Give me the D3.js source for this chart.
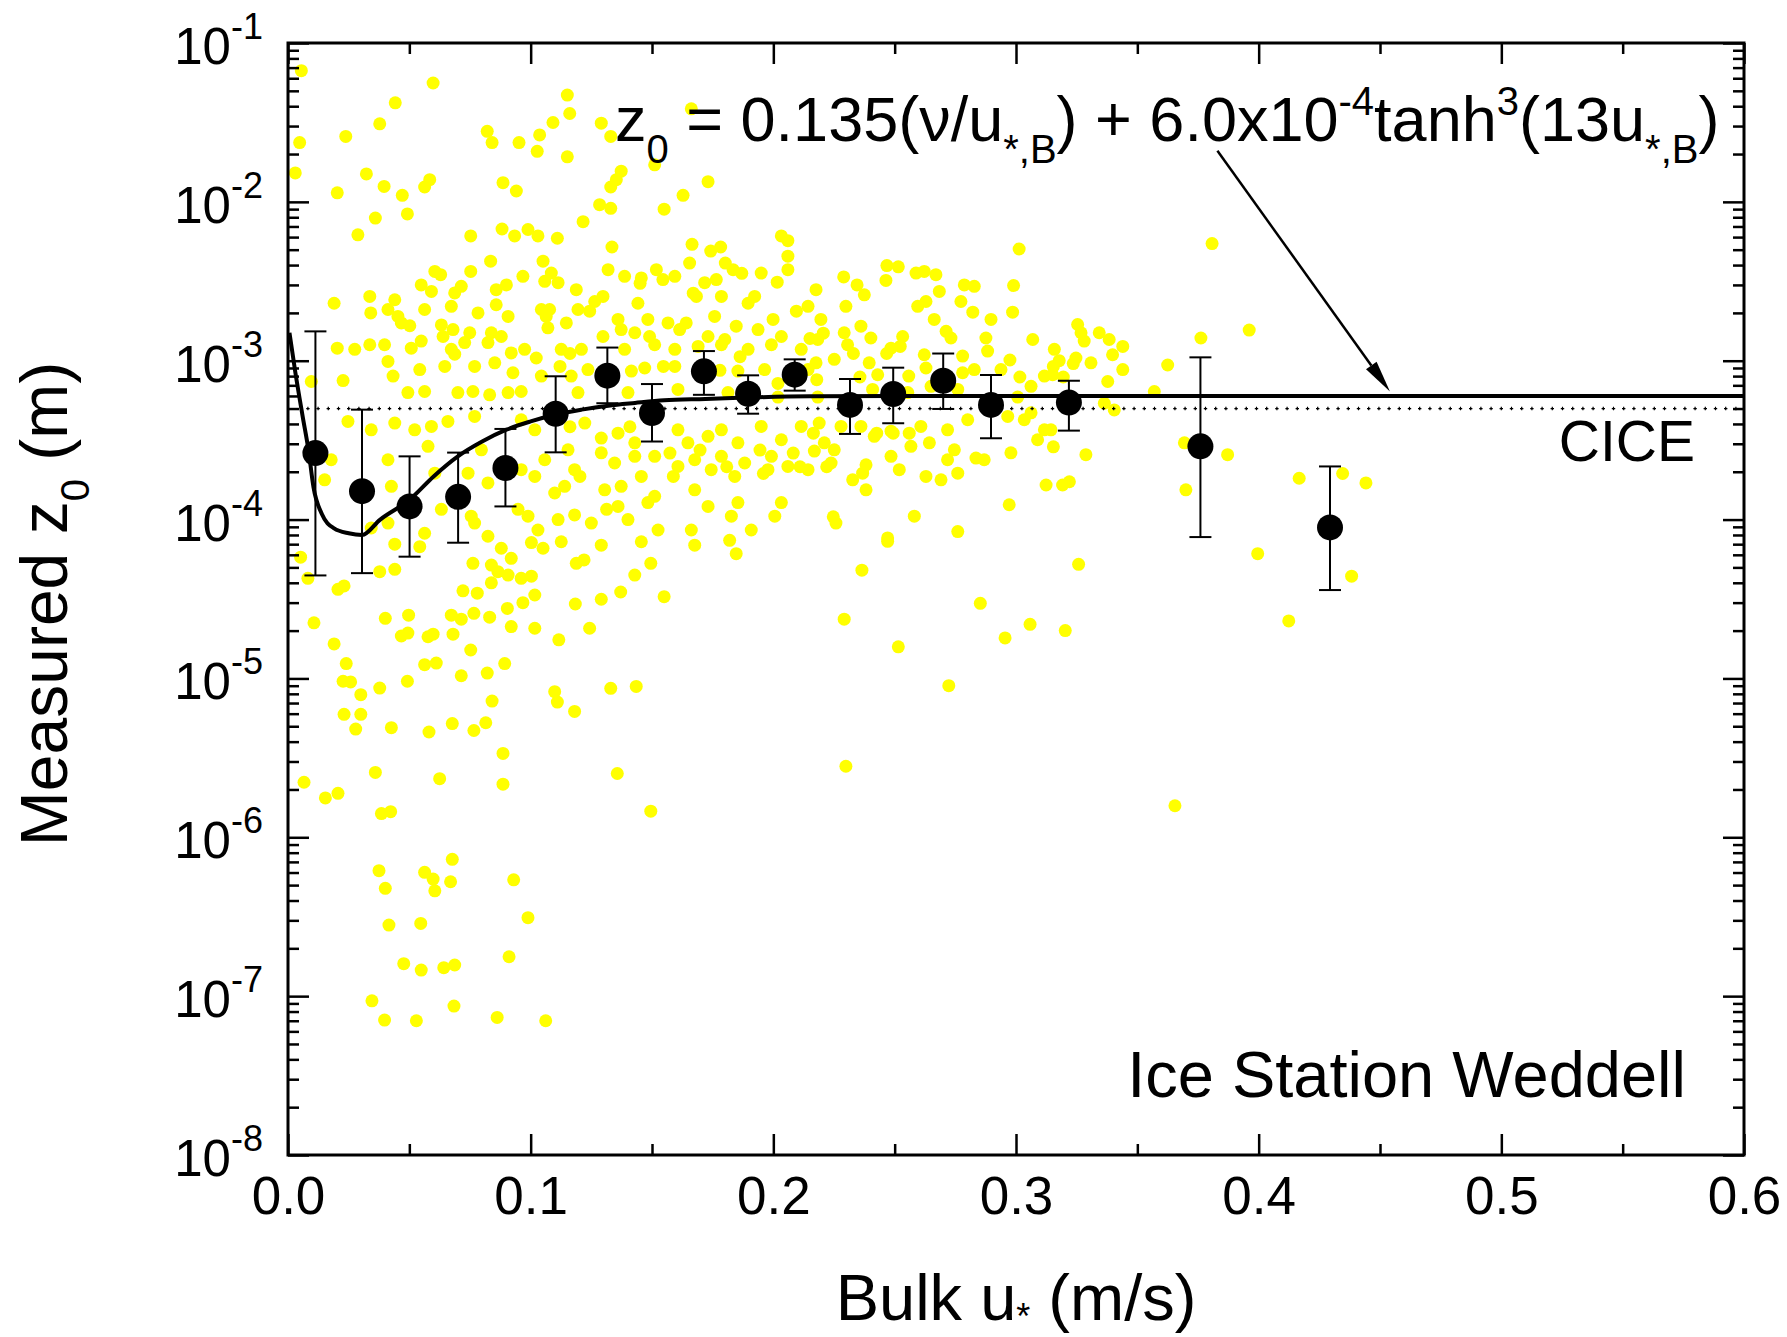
<!DOCTYPE html>
<html>
<head>
<meta charset="utf-8">
<script src="https://cdn.jsdelivr.net/npm/d3@7"></script>
<style>
  html, body { margin: 0; padding: 0; background: #ffffff; }
  svg { display: block; }
  text { font-family: "Liberation Sans", Arial, Helvetica, sans-serif; fill: #000; white-space: pre; }
</style>
</head>
<body>
<svg id="chart" width="1787" height="1337"></svg>
<script>
// ---- axis ticks ----
const xMajor = [0, 0.1, 0.2, 0.3, 0.4, 0.5, 0.6];
const xTickLabels = ["0.0", "0.1", "0.2", "0.3", "0.4", "0.5", "0.6"];
const xMinor = [0.05, 0.15, 0.25, 0.35, 0.45, 0.55];
const yMajor = [1e-8, 1e-7, 1e-6, 1e-5, 1e-4, 1e-3, 1e-2, 1e-1];
const yTickExponents = ["-8", "-7", "-6", "-5", "-4", "-3", "-2", "-1"];

// ---- binned means of z0 with error bars ----
const binU    = [0.0113, 0.0305, 0.0501, 0.0701, 0.0896, 0.1103, 0.1316, 0.1500, 0.1714, 0.1896, 0.2088, 0.2316, 0.2494, 0.2700, 0.2897, 0.3218, 0.3760, 0.4294];
const binZ0   = [2.62e-4, 1.51e-4, 1.21e-4, 1.39e-4, 2.11e-4, 4.64e-4, 8.05e-4, 4.69e-4, 8.57e-4, 6.2e-4, 8.17e-4, 5.27e-4, 6.17e-4, 7.48e-4, 5.27e-4, 5.45e-4, 2.89e-4, 8.93e-5];
const binHigh = [1.53e-3, 4.92e-4, 2.50e-4, 2.64e-4, 3.72e-4, 7.98e-4, 1.21e-3, 7.13e-4, 1.15e-3, 8.09e-4, 1.02e-3, 7.67e-4, 9.04e-4, 1.11e-3, 8.13e-4, 7.48e-4, 1.05e-3, 2.16e-4];
const binLow  = [4.45e-5, 4.6e-5, 5.84e-5, 7.15e-5, 1.21e-4, 2.65e-4, 5.4e-4, 3.1e-4, 6.1e-4, 4.64e-4, 6.48e-4, 3.46e-4, 4.04e-4, 4.97e-4, 3.25e-4, 3.63e-4, 7.76e-5, 3.6e-5];

// ---- fitted relation z0(u*,B) ----
const fitU  = [0.0006, 0.003, 0.006, 0.0085, 0.0105, 0.014, 0.019, 0.025, 0.0305, 0.038, 0.050, 0.060, 0.070, 0.080, 0.090, 0.100, 0.110, 0.121, 0.132, 0.143, 0.155, 0.172, 0.192, 0.215, 0.25, 0.30, 0.365, 0.6];
const fitZ0 = [1.5e-3, 8.5e-4, 4.5e-4, 2.7e-4, 1.6e-4, 1.08e-4, 8.8e-5, 8.2e-5, 8.0e-5, 1.0e-4, 1.33e-4, 1.87e-4, 2.5e-4, 3.1e-4, 3.68e-4, 4.15e-4, 4.57e-4, 4.92e-4, 5.21e-4, 5.42e-4, 5.63e-4, 5.74e-4, 5.88e-4, 5.97e-4, 6.0e-4, 6.0e-4, 6.0e-4, 6.0e-4];

// ---- CICE constant roughness ----
const ciceZ0 = 5e-4;
const ciceU = [0.0075, 0.6];

// ---- individual measurements [u*,B (m/s), z0 (m)] ----
const samples = [
[0.0055,6.7e-2],[0.0598,5.6e-2],[0.0442,4.2e-2],[0.1151,4.7e-2],[0.1161,3.6e-2],[0.1662,3.85e-2],[0.0378,3.1e-2],[0.0238,2.58e-2],
[0.0048,2.36e-2],[0.0821,2.78e-2],[0.0841,2.36e-2],[0.0952,2.36e-2],[0.1037,2.64e-2],[0.1027,2.08e-2],[0.1092,3.16e-2],[0.1291,3.13e-2],
[0.1330,2.58e-2],[0.1151,1.92e-2],[0.0030,1.52e-2],[0.0323,1.5e-2],[0.0203,1.14e-2],[0.0396,1.25e-2],[0.0471,1.1e-2],[0.0584,1.38e-2],
[0.0563,1.24e-2],[0.0492,8.4e-3],[0.0360,7.9e-3],[0.0886,1.32e-2],[0.0941,1.17e-2],[0.1373,1.56e-2],[0.1353,1.38e-2],[0.1330,1.24e-2],
[0.1731,1.34e-2],[0.1628,1.1e-2],[0.1511,1.71e-2],[0.1550,9.0e-3],[0.1284,9.6e-3],[0.1330,9.1e-3],[0.1216,7.5e-3],[0.0288,6.2e-3],
[0.0753,6.1e-3],[0.0882,6.75e-3],[0.0934,6.1e-3],[0.0989,6.7e-3],[0.1030,6.1e-3],[0.1110,5.9e-3],[0.1335,5.2e-3],[0.1665,5.4e-3],
[0.2033,6.1e-3],[0.2060,5.7e-3],[0.1742,4.9e-3],[0.1783,5.2e-3],[0.2060,4.55e-3],[0.1655,4.12e-3],[0.1802,4.12e-3],[0.0835,4.23e-3],
[0.1051,4.23e-3],[0.1319,3.74e-3],[0.0605,3.65e-3],[0.0629,3.48e-3],[0.0753,3.65e-3],[0.1518,3.74e-3],[0.1594,3.4e-3],[0.1834,3.74e-3],
[0.1950,3.56e-3],[0.2060,3.74e-3],[0.1085,3.56e-3],[0.0968,3.4e-3],[0.0549,3.0e-3],[0.0591,2.73e-3],[0.0714,2.94e-3],[0.0858,2.8e-3],
[0.0900,3.0e-3],[0.1058,3.16e-3],[0.1113,3.1e-3],[0.1387,3.4e-3],[0.1456,3.32e-3],[0.1545,3.24e-3],[0.1717,3.1e-3],[0.1765,3.24e-3],
[0.2016,3.12e-3],[0.1923,2.54e-3],[0.1683,2.54e-3],[0.1786,2.54e-3],[0.1442,2.3e-3],[0.1298,2.54e-3],[0.1264,2.36e-3],[0.1188,2.8e-3],
[0.1044,2.1e-3],[0.1078,2.1e-3],[0.0858,2.25e-3],[0.0687,2.67e-3],[0.0337,2.54e-3],[0.0440,2.42e-3],[0.0190,2.3e-3],[0.0341,2.0e-3],
[0.0412,2.1e-3],[0.0453,1.9e-3],[0.0563,2.1e-3],[0.0673,2.2e-3],[0.0783,2.0e-3],[0.0907,1.9e-3],[0.1064,1.9e-3],[0.1195,2.1e-3],
[0.1243,2.05e-3],[0.1360,1.82e-3],[0.1483,1.82e-3],[0.1566,1.73e-3],[0.1641,1.73e-3],[0.1758,1.9e-3],[0.1847,1.65e-3],[0.1896,2.3e-3],
[0.1999,1.82e-3],[0.2095,2.05e-3],[0.2143,2.2e-3],[0.0467,1.73e-3],[0.0502,1.66e-3],[0.0632,1.68e-3],[0.0680,1.57e-3],[0.0749,1.5e-3],
[0.0838,1.5e-3],[0.0879,1.42e-3],[0.1071,1.61e-3],[0.1147,1.73e-3],[0.1298,1.42e-3],[0.1373,1.57e-3],[0.1429,1.5e-3],[0.1490,1.42e-3],
[0.1614,1.57e-3],[0.1731,1.42e-3],[0.1800,1.36e-3],[0.1937,1.57e-3],[0.2033,1.42e-3],[0.0203,1.2e-3],[0.0275,1.18e-3],[0.0337,1.26e-3],
[0.0398,1.26e-3],[0.0508,1.2e-3],[0.0549,1.33e-3],[0.0639,1.42e-3],[0.0673,1.18e-3],[0.0728,1.3e-3],[0.0824,1.3e-3],[0.0920,1.12e-3],
[0.0975,1.18e-3],[0.1126,1.18e-3],[0.1209,1.18e-3],[0.1387,1.18e-3],[0.1511,1.26e-3],[0.1594,1.18e-3],[0.1690,1.23e-3],[0.1786,1.26e-3],
[0.1896,1.18e-3],[0.1992,1.26e-3],[0.2115,1.18e-3],[0.0096,7.4e-4],[0.0227,7.5e-4],[0.0412,9.9e-4],[0.0433,8.0e-4],[0.0543,8.8e-4],
[0.0646,9.2e-4],[0.0687,1.1e-3],[0.0769,9.2e-4],[0.0852,9.7e-4],[0.0927,8.4e-4],[0.1023,1.04e-3],[0.1044,8.0e-4],[0.1167,8.0e-4],
[0.1236,8.8e-4],[0.1415,8.6e-4],[0.1470,9.0e-4],[0.1594,9.2e-4],[0.1854,8.6e-4],[0.1964,8.8e-4],[0.2019,7.2e-4],[0.2143,8.8e-4],
[0.0494,6.3e-4],[0.0563,6.4e-4],[0.0700,6.3e-4],[0.0762,6.4e-4],[0.0831,6.1e-4],[0.0907,6.3e-4],[0.0961,6.4e-4],[0.1195,6.3e-4],
[0.1401,6.3e-4],[0.1607,6.6e-4],[0.1813,6.3e-4],[0.2019,5.9e-4],[0.0247,4.15e-4],[0.0343,3.67e-4],[0.0440,4.05e-4],[0.0522,3.67e-4],
[0.0591,3.86e-4],[0.0659,4.15e-4],[0.0769,4.46e-4],[0.0961,4.25e-4],[0.1017,3.67e-4],[0.1223,4.05e-4],[0.1291,3.26e-4],[0.1360,3.5e-4],
[0.1429,3.04e-4],[0.1607,3.67e-4],[0.1648,3.04e-4],[0.1731,3.34e-4],[0.1786,3.67e-4],[0.1854,3.04e-4],[0.1950,3.86e-4],[0.2033,3.18e-4],
[0.2115,3.86e-4],[0.0178,2.38e-4],[0.0151,1.78e-4],[0.0412,2.38e-4],[0.0426,1.62e-4],[0.0577,2.89e-4],[0.0605,1.96e-4],[0.0742,1.96e-4],
[0.0797,2.75e-4],[0.0824,1.7e-4],[0.0961,2.06e-4],[0.1017,1.87e-4],[0.1058,2.38e-4],[0.1154,2.75e-4],[0.1181,2.06e-4],[0.1140,1.62e-4],
[0.1291,2.63e-4],[0.1346,2.27e-4],[0.1429,2.5e-4],[0.1373,1.62e-4],[0.1456,1.87e-4],[0.1511,2.5e-4],[0.1607,2.16e-4],[0.1676,2.38e-4],
[0.1744,2.06e-4],[0.1786,2.5e-4],[0.1841,1.87e-4],[0.1882,2.27e-4],[0.1992,2.5e-4],[0.2060,2.16e-4],[0.2143,2.06e-4],[0.1676,1.54e-4],
[0.1731,1.21e-4],[0.1854,1.28e-4],[0.1978,2.06e-4],[0.2033,1.28e-4],[0.1483,1.28e-4],[0.1305,1.54e-4],[0.1511,1.4e-4],[0.1099,1.47e-4],
[0.0948,1.16e-4],[0.0989,1.05e-4],[0.1030,8.6e-5],[0.1113,1.0e-4],[0.1181,1.07e-4],[0.1250,9.5e-5],[0.1360,1.21e-4],[0.1401,1.0e-4],
[0.1525,8.6e-5],[0.1662,8.6e-5],[0.1827,1.05e-4],[0.1909,8.6e-5],[0.2006,1.05e-4],[0.0632,1.16e-4],[0.0563,8.2e-5],[0.0769,9.5e-5],
[0.0824,7.85e-5],[0.0412,9.5e-5],[0.0343,8.85e-5],[0.0755,1.05e-4],[0.0440,7.0e-5],[0.0543,6.75e-5],[0.0052,5.8e-5],[0.0082,4.27e-5],
[0.0378,4.7e-5],[0.0440,4.86e-5],[0.0206,3.64e-5],[0.0231,3.82e-5],[0.0762,5.3e-5],[0.0838,5.17e-5],[0.0879,6.6e-5],[0.0920,5.7e-5],
[0.0865,4.7e-5],[0.0907,4.47e-5],[0.0961,4.27e-5],[0.1003,4.4e-5],[0.0838,4.0e-5],[0.1003,7.16e-5],[0.1051,6.6e-5],[0.1126,7.25e-5],
[0.1291,6.9e-5],[0.1456,7.25e-5],[0.1676,6.9e-5],[0.1847,6.1e-5],[0.1820,7.4e-5],[0.1188,5.3e-5],[0.1220,5.57e-5],[0.1495,5.3e-5],
[0.1429,4.47e-5],[0.0721,3.56e-5],[0.0780,3.44e-5],[0.1017,3.35e-5],[0.0968,3.0e-5],[0.1371,3.5e-5],[0.1291,3.15e-5],[0.1184,2.94e-5],
[0.1550,3.27e-5],[0.0904,2.76e-5],[0.0107,2.24e-5],[0.0401,2.39e-5],[0.0497,2.5e-5],[0.0673,2.5e-5],[0.0714,2.36e-5],[0.0766,2.57e-5],
[0.0831,2.43e-5],[0.0920,2.12e-5],[0.1017,2.07e-5],[0.1243,2.07e-5],[0.1116,1.75e-5],[0.0467,1.85e-5],[0.0494,1.93e-5],[0.0577,1.83e-5],
[0.0598,1.9e-5],[0.0680,1.9e-5],[0.0190,1.65e-5],[0.0753,1.51e-5],[0.0240,1.24e-5],[0.0563,1.22e-5],[0.0611,1.25e-5],[0.0893,1.24e-5],
[0.0714,1.04e-5],[0.0821,1.08e-5],[0.0227,9.6e-6],[0.0258,9.5e-6],[0.0492,9.6e-6],[0.0378,8.7e-6],[0.0300,7.9e-6],[0.0841,7.2e-6],
[0.1099,8.25e-6],[0.1110,7.1e-6],[0.1181,6.2e-6],[0.1330,8.66e-6],[0.1435,8.9e-6],[0.0231,5.94e-6],[0.0300,5.94e-6],[0.0279,4.8e-6],
[0.0426,4.9e-6],[0.0581,4.6e-6],[0.0677,5.2e-6],[0.0766,4.7e-6],[0.0815,5.26e-6],[0.0886,3.37e-6],[0.0360,2.56e-6],[0.0066,2.22e-6],
[0.0625,2.34e-6],[0.0886,2.16e-6],[0.1357,2.52e-6],[0.0154,1.77e-6],[0.0206,1.89e-6],[0.0385,1.41e-6],[0.0423,1.45e-6],[0.1495,1.46e-6],
[0.0677,7.27e-7],[0.0375,6.16e-7],[0.0563,6.02e-7],[0.0598,5.46e-7],[0.0670,5.25e-7],[0.0401,4.77e-7],[0.0605,4.6e-7],[0.0930,5.4e-7],
[0.0416,2.8e-7],[0.0547,2.87e-7],[0.0989,3.12e-7],[0.0477,1.6e-7],[0.0549,1.46e-7],[0.0642,1.51e-7],[0.0687,1.57e-7],[0.0911,1.77e-7],
[0.0346,9.35e-8],[0.0398,7.07e-8],[0.0529,7.0e-8],[0.0684,8.66e-8],[0.0862,7.35e-8],[0.1062,7.0e-8],[0.2471,7.3e-5],[0.2365,4.8e-5],
[0.3258,5.23e-5],[0.3996,6.1e-5],[0.2853,2.97e-5],[0.2292,2.36e-5],[0.2515,1.58e-5],[0.2955,1.8e-5],[0.3058,2.19e-5],[0.3203,2.0e-5],
[0.4124,2.3e-5],[0.2723,9.0e-6],[0.2299,2.8e-6],[0.3655,1.58e-6],[0.3013,5.05e-3],[0.3808,5.46e-3],[0.3961,1.56e-3],[0.3762,1.39e-3],
[0.3625,9.4e-4],[0.2990,2.97e-3],[0.2986,2.02e-3],[0.2897,1.82e-3],[0.2773,2.36e-3],[0.2822,2.02e-3],[0.2787,3.0e-3],[0.2828,2.94e-3],
[0.2684,2.73e-3],[0.2629,2.36e-3],[0.2595,2.2e-3],[0.2663,1.82e-3],[0.2468,3.97e-3],[0.2515,3.9e-3],[0.2464,3.2e-3],[0.2588,3.56e-3],
[0.2622,3.65e-3],[0.2670,3.48e-3],[0.2290,3.37e-3],[0.2345,3.0e-3],[0.2375,2.6e-3],[0.2299,2.2e-3],[0.2176,2.8e-3],[0.2196,1.82e-3],
[0.2361,1.65e-3],[0.2292,1.5e-3],[0.2402,1.39e-3],[0.2533,1.42e-3],[0.2712,1.53e-3],[0.2732,1.39e-3],[0.2876,1.39e-3],[0.2883,1.15e-3],
[0.2780,1.07e-3],[0.2622,1.09e-3],[0.2523,1.23e-3],[0.2485,1.2e-3],[0.2306,1.26e-3],[0.2183,1.36e-3],[0.2176,9.7e-4],[0.2251,1.02e-3],
[0.2395,9.7e-4],[0.2430,8.16e-4],[0.2558,8.0e-4],[0.2629,9.0e-4],[0.2780,8.4e-4],[0.2828,8.8e-4],[0.2938,8.8e-4],[0.3069,1.36e-3],
[0.3158,1.18e-3],[0.3178,1.0e-3],[0.3254,1.69e-3],[0.3268,1.5e-3],[0.3281,1.33e-3],[0.3247,1.04e-3],[0.3309,9.7e-4],[0.3343,1.5e-3],
[0.3384,1.36e-3],[0.3398,1.09e-3],[0.3440,1.23e-3],[0.3440,8.8e-4],[0.3378,7.4e-4],[0.3117,8.0e-4],[0.3151,8.16e-4],[0.3062,6.9e-4],
[0.3570,6.4e-4],[0.3007,5.9e-4],[0.2760,6.6e-4],[0.2650,6.9e-4],[0.2554,6.3e-4],[0.2409,6.6e-4],[0.2183,5.9e-4],[0.3364,5.4e-4],
[0.3405,4.9e-4],[0.3062,4.7e-4],[0.3034,4.25e-4],[0.3144,3.67e-4],[0.2966,4.46e-4],[0.2801,4.25e-4],[0.2718,3.67e-4],[0.2608,3.86e-4],
[0.2560,3.5e-4],[0.2485,3.6e-4],[0.2416,3.34e-4],[0.2361,3.86e-4],[0.2279,3.86e-4],[0.2189,4.05e-4],[0.2210,3.04e-4],[0.2251,2.75e-4],
[0.2169,2.7e-4],[0.2238,2.27e-4],[0.2382,2.21e-4],[0.2368,1.96e-4],[0.2485,2.5e-4],[0.2567,2.89e-4],[0.2643,3.04e-4],[0.2746,2.75e-4],
[0.2718,2.38e-4],[0.2835,2.44e-4],[0.2869,2.38e-4],[0.2979,2.63e-4],[0.3089,3.18e-4],[0.3117,3.67e-4],[0.3288,2.56e-4],[0.3694,3.04e-4],
[0.3872,2.56e-4],[0.3700,1.54e-4],[0.4167,1.82e-4],[0.2327,1.78e-4],[0.2382,1.54e-4],[0.2519,2.06e-4],[0.2629,1.87e-4],[0.2691,1.78e-4],
[0.2760,1.96e-4],[0.3124,1.65e-4],[0.3192,1.65e-4],[0.3220,1.73e-4],[0.2972,1.24e-4],[0.2258,9.5e-5],[0.2581,1.05e-4],[0.2760,8.4e-5],
[0.2471,7.66e-5],[0.4346,1.95e-4],[0.4442,1.7e-4],[0.4383,4.4e-5],[0.1451,3.07e-3],[0.1670,2.66e-3],[0.1870,3.55e-3],[0.2206,1.49e-3],
[0.1162,1.11e-3],[0.1863,1.06e-3],[0.2151,1.38e-3],[0.2330,1.11e-3],[0.2467,1.11e-3],[0.2975,1.01e-3],[0.3016,7.9e-4],[0.3154,9.2e-4],
[0.3236,9.6e-4],[0.1121,9.2e-4],[0.1547,9.2e-4],[0.1780,8.7e-4],[0.2179,7.6e-4],[0.2357,7.9e-4],[0.3195,7.9e-4],[0.1162,3.84e-4],
[0.1409,3.84e-4],[0.1574,2.62e-4],[0.1698,2.74e-4],[0.1945,2.74e-4],[0.2082,2.62e-4],[0.2165,3.5e-4],[0.2426,3.5e-4],[0.2494,3.5e-4],
[0.3154,2.87e-4],[0.2220,2.15e-4],[0.2110,2.15e-4],[0.1959,1.95e-4],[0.1808,2.15e-4],[0.1588,1.87e-4],[0.1203,1.87e-4],[0.1313,1.16e-4],
[0.2247,1.04e-4]
];

// ---- annotation arrow (tail, head) in data units ----
const arrowU  = [0.383, 0.4541];
const arrowZ0 = [2.1e-2, 6.4e-4];

// ---------------------------------------------------------------
const plot = { left: 288, top: 43, right: 1744, bottom: 1155 };
const svg = d3.select("#chart");

const x = d3.scaleLinear().domain([0, 0.6]).range([plot.left, plot.right]);
const y = d3.scaleLog().domain([1e-8, 1e-1]).range([plot.bottom, plot.top]);

// rich text helper: parts = [text, "sub"|"sup"|undefined]
function richText(textSel, parts, base, small, subShift, supShift) {
  let shift = 0;
  parts.forEach(([t, kind]) => {
    const target = kind === "sub" ? subShift : kind === "sup" ? -supShift : 0;
    textSel.append("tspan")
      .attr("dy", target - shift)
      .attr("font-size", kind ? small : base)
      .text(t);
    shift = target;
  });
}

// ---- scatter of measurements ----
svg.append("g")
  .selectAll("circle")
  .data(samples)
  .join("circle")
  .attr("cx", d => x(d[0]))
  .attr("cy", d => y(d[1]))
  .attr("r", 6.5)
  .attr("fill", "#ffff00");

// ---- CICE dotted reference (small crosses) ----
const ciceLine = d3.line().x(d => x(d)).y(() => y(ciceZ0));
svg.append("path")
  .attr("d", ciceLine(ciceU))
  .attr("fill", "none").attr("stroke", "#000")
  .attr("stroke-width", 1.3)
  .attr("stroke-dasharray", "3.4 6.8");
svg.append("path")
  .attr("d", ciceLine(ciceU))
  .attr("fill", "none").attr("stroke", "#000")
  .attr("stroke-width", 3.6)
  .attr("stroke-dasharray", "0 1.1 1.2 7.9");

// ---- fitted curve ----
const fitLine = d3.line()
  .x((d, i) => x(fitU[i]))
  .y(d => y(d))
  .curve(d3.curveMonotoneX);
svg.append("path")
  .attr("d", fitLine(fitZ0))
  .attr("fill", "none")
  .attr("stroke", "#000")
  .attr("stroke-width", 4)
  .attr("stroke-linejoin", "round");

// ---- error bars ----
const capHalf = 11;
const eb = svg.append("g").attr("stroke", "#000").attr("stroke-width", 2);
binU.forEach((u, i) => {
  const cx = x(u);
  eb.append("line").attr("x1", cx).attr("x2", cx).attr("y1", y(binLow[i])).attr("y2", y(binHigh[i]));
  eb.append("line").attr("x1", cx - capHalf).attr("x2", cx + capHalf).attr("y1", y(binHigh[i])).attr("y2", y(binHigh[i]));
  eb.append("line").attr("x1", cx - capHalf).attr("x2", cx + capHalf).attr("y1", y(binLow[i])).attr("y2", y(binLow[i]));
});

// ---- binned means ----
svg.append("g")
  .selectAll("circle")
  .data(binZ0)
  .join("circle")
  .attr("cx", (d, i) => x(binU[i]))
  .attr("cy", d => y(d))
  .attr("r", 13)
  .attr("fill", "#000");

// ---- axes (ticks point inward on all four sides) ----
function styleAxis(g, fontSize) {
  g.select(".domain").remove();
  g.selectAll(".tick line").attr("stroke", "#000").attr("stroke-width", 2.5);
  g.selectAll(".tick text").attr("font-size", fontSize)
    .attr("font-family", '"Liberation Sans", Arial, sans-serif').attr("fill", "#000");
  g.attr("font-family", null).attr("font-size", null);
}

svg.append("g").attr("transform", `translate(0,${plot.bottom})`)
  .call(d3.axisBottom(x).tickValues(xMajor).tickSize(-21).tickSizeOuter(0).tickPadding(21)
    .tickFormat((d, i) => xTickLabels[i]))
  .call(g => styleAxis(g, 53));
svg.append("g").attr("transform", `translate(0,${plot.bottom})`)
  .call(d3.axisBottom(x).tickValues(xMinor).tickSize(-11).tickSizeOuter(0).tickFormat(""))
  .call(g => styleAxis(g, 53));
svg.append("g").attr("transform", `translate(0,${plot.top})`)
  .call(d3.axisTop(x).tickValues(xMajor).tickSize(-21).tickSizeOuter(0).tickFormat(""))
  .call(g => styleAxis(g, 53));
svg.append("g").attr("transform", `translate(0,${plot.top})`)
  .call(d3.axisTop(x).tickValues(xMinor).tickSize(-11).tickSizeOuter(0).tickFormat(""))
  .call(g => styleAxis(g, 53));

const yMinor = y.ticks().filter(v => !yMajor.some(m => Math.abs(m - v) / m < 1e-6));
svg.append("g").attr("transform", `translate(${plot.left},0)`)
  .call(d3.axisLeft(y).tickValues(yMajor).tickSize(-21).tickSizeOuter(0).tickFormat(""))
  .call(g => styleAxis(g, 51));
svg.append("g").attr("transform", `translate(${plot.left},0)`)
  .call(d3.axisLeft(y).tickValues(yMinor).tickSize(-11).tickSizeOuter(0).tickFormat(""))
  .call(g => styleAxis(g, 51));
svg.append("g").attr("transform", `translate(${plot.right},0)`)
  .call(d3.axisRight(y).tickValues(yMajor).tickSize(-21).tickSizeOuter(0).tickFormat(""))
  .call(g => styleAxis(g, 51));
svg.append("g").attr("transform", `translate(${plot.right},0)`)
  .call(d3.axisRight(y).tickValues(yMinor).tickSize(-11).tickSizeOuter(0).tickFormat(""))
  .call(g => styleAxis(g, 51));

// y tick labels as powers of ten
const yLab = svg.append("g");
yMajor.forEach((v, i) => {
  const t = yLab.append("text")
    .attr("x", plot.left - 25)
    .attr("y", y(v) + 21)
    .attr("text-anchor", "end");
  richText(t, [["10"], [yTickExponents[i], "sup"]], 51, 36, 0, 25);
});

// frame
svg.append("rect")
  .attr("x", plot.left).attr("y", plot.top)
  .attr("width", plot.right - plot.left).attr("height", plot.bottom - plot.top)
  .attr("fill", "none").attr("stroke", "#000").attr("stroke-width", 3);

// ---- axis titles ----
const xt = svg.append("text")
  .attr("x", (plot.left + plot.right) / 2)
  .attr("y", 1320)
  .attr("text-anchor", "middle");
richText(xt, [["Bulk u"], ["*", "sub"], [" (m/s)"]], 65, 36, 9, 0);

const yt = svg.append("text")
  .attr("transform", `translate(67,604) rotate(-90)`)
  .attr("text-anchor", "middle");
richText(yt, [["Measured z"], ["0", "sub"], [" (m)"]], 66, 40, 22, 0);

// ---- annotations ----
const eq = svg.append("text").attr("x", 615).attr("y", 141);
richText(eq, [
  ["z"], ["0", "sub"], [" = 0.135(\u03bd/u"], ["*,B", "sub"], [") + 6.0x10"], ["-4", "sup"],
  ["tanh"], ["3", "sup"], ["(13u"], ["*,B", "sub"], [")"]
], 63, 40, 22, 26);

svg.append("text").attr("x", 1695).attr("y", 461).attr("text-anchor", "end")
  .attr("font-size", 57).text("CICE");

svg.append("text").attr("x", 1686).attr("y", 1097).attr("text-anchor", "end")
  .attr("font-size", 65).text("Ice Station Weddell");

// arrow from the equation to the fitted curve
const ax0 = x(arrowU[0]), ay0 = y(arrowZ0[0]);
const ax1 = x(arrowU[1]), ay1 = y(arrowZ0[1]);
const ang = Math.atan2(ay1 - ay0, ax1 - ax0);
const headLen = 32, headHalf = 6.5;
const bx = ax1 - headLen * Math.cos(ang), by = ay1 - headLen * Math.sin(ang);
svg.append("line")
  .attr("x1", ax0).attr("y1", ay0).attr("x2", bx).attr("y2", by)
  .attr("stroke", "#000").attr("stroke-width", 2.5);
const nx = -Math.sin(ang), ny = Math.cos(ang);
svg.append("path")
  .attr("d", `M${ax1},${ay1} L${bx + nx * headHalf},${by + ny * headHalf} L${bx - nx * headHalf},${by - ny * headHalf} Z`)
  .attr("fill", "#000");
</script>
</body>
</html>
